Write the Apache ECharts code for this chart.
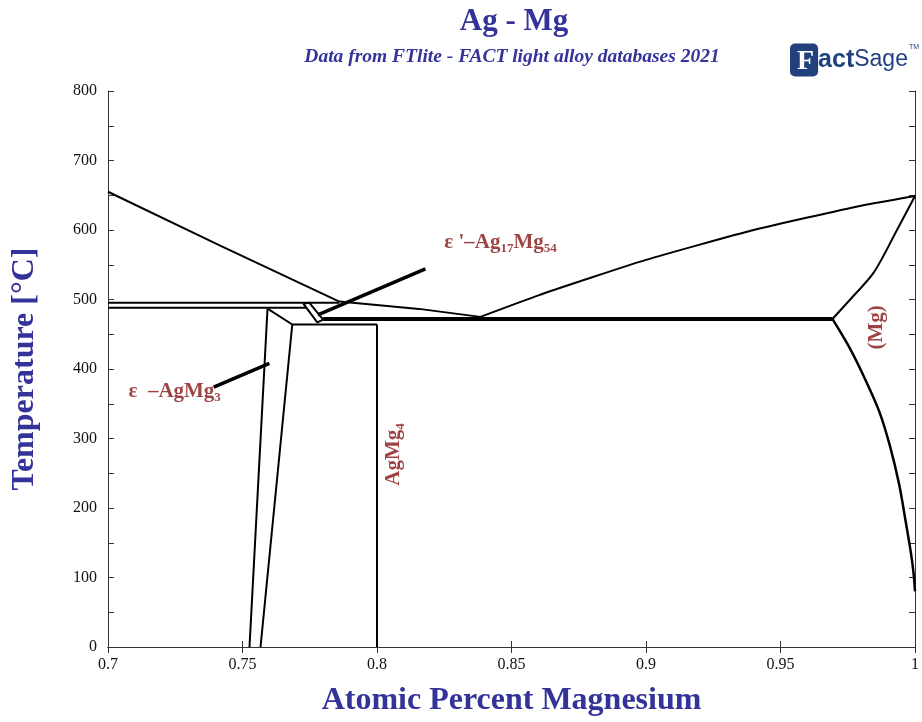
<!DOCTYPE html>
<html>
<head>
<meta charset="utf-8">
<script src="https://cdn.jsdelivr.net/npm/echarts@6/dist/echarts.min.js"></script>
<style>
  html, body { margin: 0; padding: 0; background: #fff; }
  #chart { width: 922px; height: 722px; }
</style>
</head>
<body>
<div id="chart"></div>
<script>
// phase boundaries, [mole fraction Mg, T in C]
var liqLeft = [[0.7, 655], [0.7415, 578], [0.786, 497]];
var liqEps = [[0.786, 497], [0.8156, 486.5], [0.8384, 475]];
var liqRight = [[0.8384, 475], [0.86, 506], [0.88, 532], [0.90, 557], [0.92, 579], [0.94, 600], [0.96, 618], [0.98, 635], [1.0, 649]];
var peritectic495 = [[0.7, 495.5], [0.786, 495.5]];
var peritectic488 = [[0.7, 488], [0.7738, 488]];
var epsPrime = [[0.7726, 494], [0.7778, 467], [0.78, 471], [0.7748, 495.4], [0.7726, 494]];
var epsLeft = [[0.7593, 487], [0.7526, 0]];
var epsTop = [[0.7593, 487], [0.7685, 464]];
var epsRight = [[0.7685, 464], [0.7567, 0]];
var line464 = [[0.7685, 464], [0.8, 464]];
var agmg4 = [[0.8, 464], [0.8, 0]];
var eutectic = [[0.78, 472], [0.9693, 472]];
var mgSolidus = [[1.0, 649], [0.9933, 600], [0.9847, 539], [0.9759, 500], [0.9693, 472]];
var mgSolvus = [[0.9693, 472], [0.9756, 431], [0.9815, 385], [0.9867, 339], [0.9907, 289], [0.9941, 234], [0.9967, 177], [0.9985, 135], [0.9995, 105], [1.0, 80]];
var pointerEpsPrime = [[0.818, 544], [0.778, 478]];
var pointerEps = [[0.7393, 374], [0.76, 408]];

// phase labels: [x, T, text, rotate]
var phaseLabels = [
  [0.8248, 582, "{a|ε '–Ag}{s|17}{a|Mg}{s|54}", 0],
  [0.7074, 368, '{a|ε  –AgMg}{s|3}', 0],
  [0.8063, 277, '{a|AgMg}{s|4}', 90],
  [0.9859, 460, '{a|(Mg)}', 90]
];

var yTicks = [0, 100, 200, 300, 400, 500, 600, 700, 800];

var serif = "'Liberation Serif', 'Times New Roman', serif";
var navy = '#333399';
var red = '#861414';

function boundary(data, width, smooth) {
    return {
        type: 'line',
        data: data,
        showSymbol: false,
        symbol: 'none',
        silent: true,
        smooth: smooth || false,
        lineStyle: { color: '#000', width: width || 2 },
        z: 3
    };
}

var series = [
    boundary(liqLeft),
    boundary(liqEps),
    boundary(liqRight, 2, 0.2),
    boundary(peritectic495),
    boundary(peritectic488),
    boundary(epsPrime),
    boundary(epsLeft),
    boundary(epsTop),
    boundary(epsRight),
    boundary(line464),
    boundary(agmg4),
    boundary(eutectic, 4),
    boundary(mgSolidus, 2, 0.3),
    boundary(mgSolvus, 2.5, 0.3),
    boundary(pointerEpsPrime, 3.5),
    boundary(pointerEps, 3.5)
];

var rich = {
    a: { fontFamily: serif, fontWeight: 'bold', fontSize: 21, color: red, lineHeight: 26, verticalAlign: 'middle' },
    s: { fontFamily: serif, fontWeight: 'bold', fontSize: 13, color: red, lineHeight: 26, verticalAlign: 'bottom', padding: [11, 0, 0, 0] }
};

phaseLabels.forEach(function (p) {
    series.push({
        type: 'scatter',
        data: [[p[0], p[1]]],
        symbolSize: 1,
        itemStyle: { color: 'rgba(0,0,0,0)' },
        silent: true,
        label: {
            show: true,
            position: p[3] ? 'inside' : 'right',
            distance: 0,
            rotate: p[3],
            formatter: p[2],
            rich: rich
        },
        z: 5
    });
});

var chart = echarts.init(document.getElementById('chart'));
chart.setOption({
    animation: false,
    backgroundColor: '#fff',
    grid: { left: 108, right: 4, top: 91, bottom: 74 },
    xAxis: [{
        type: 'value', min: 0.7, max: 1.0, interval: 0.05,
        name: 'Atomic Percent Magnesium', nameLocation: 'middle', nameGap: 38,
        nameTextStyle: { fontFamily: serif, fontWeight: 'bold', fontSize: 32, color: navy },
        axisLine: { show: true, lineStyle: { color: '#333', width: 1 } },
        axisTick: { show: true, inside: true, length: 6, lineStyle: { color: '#333' } },
        axisLabel: {
            fontFamily: serif, fontSize: 16, color: '#111', margin: 10,
            formatter: function (v) { return String(parseFloat(v.toFixed(2))); }
        },
        splitLine: { show: false }
    }, {
        type: 'value', position: 'top', min: 0.7, max: 1.0, interval: 0.05,
        axisLine: { show: true, lineStyle: { color: '#333', width: 1 } },
        axisTick: { show: true, inside: true, length: 6, lineStyle: { color: '#333' } },
        axisLabel: { show: false },
        splitLine: { show: false }
    }],
    yAxis: [{
        type: 'value', min: 0, max: 800, interval: 50,
        name: 'Temperature [°C]', nameLocation: 'middle', nameGap: 67,
        nameTextStyle: { fontFamily: serif, fontWeight: 'bold', fontSize: 32, color: navy },
        axisLine: { show: true, lineStyle: { color: '#333', width: 1 } },
        axisTick: { show: true, inside: true, length: 6, lineStyle: { color: '#333' } },
        axisLabel: {
            fontFamily: serif, fontSize: 16, color: '#111', margin: 11,
            formatter: function (v) { return yTicks.indexOf(v) >= 0 ? String(v) : ''; }
        },
        splitLine: { show: false }
    }, {
        type: 'value', position: 'right', min: 0, max: 800, interval: 50,
        axisLine: { show: true, lineStyle: { color: '#333', width: 1 } },
        axisTick: { show: true, inside: true, length: 6, lineStyle: { color: '#333' } },
        axisLabel: { show: false },
        splitLine: { show: false }
    }],
    graphic: [{
        type: 'text', x: 514, y: 22,
        style: { text: 'Ag - Mg', fontFamily: serif, fontWeight: 'bold', fontSize: 31, fill: navy, align: 'center', verticalAlign: 'middle' }
    }, {
        type: 'text', x: 512, y: 57,
        style: { text: 'Data from FTlite - FACT light alloy databases 2021', fontFamily: serif, fontWeight: 'bold', fontStyle: 'italic', fontSize: 19.5, fill: navy, align: 'center', verticalAlign: 'middle' }
    }, {
        type: 'text', x: 790, y: 60,
        style: {
            text: '{f|F}{b|act}{s|Sage}{t|TM}',
            verticalAlign: 'middle',
            rich: {
                f: { fontFamily: serif, fontWeight: 'bold', fontSize: 28, fill: '#fff', backgroundColor: '#22407e', padding: [4, 4, 1, 7], borderRadius: 5 },
                b: { fontFamily: "'Liberation Sans', sans-serif", fontWeight: 'bold', fontSize: 25, fill: '#22407e' },
                s: { fontFamily: "'Liberation Sans Narrow', 'Liberation Sans', sans-serif", fontSize: 23, fill: '#22407e' },
                t: { fontFamily: "'Liberation Sans', sans-serif", fontSize: 7, fill: '#22407e', verticalAlign: 'top', padding: [0, 0, 16, 1] }
            }
        }
    }],
    series: series
});
</script>
</body>
</html>
